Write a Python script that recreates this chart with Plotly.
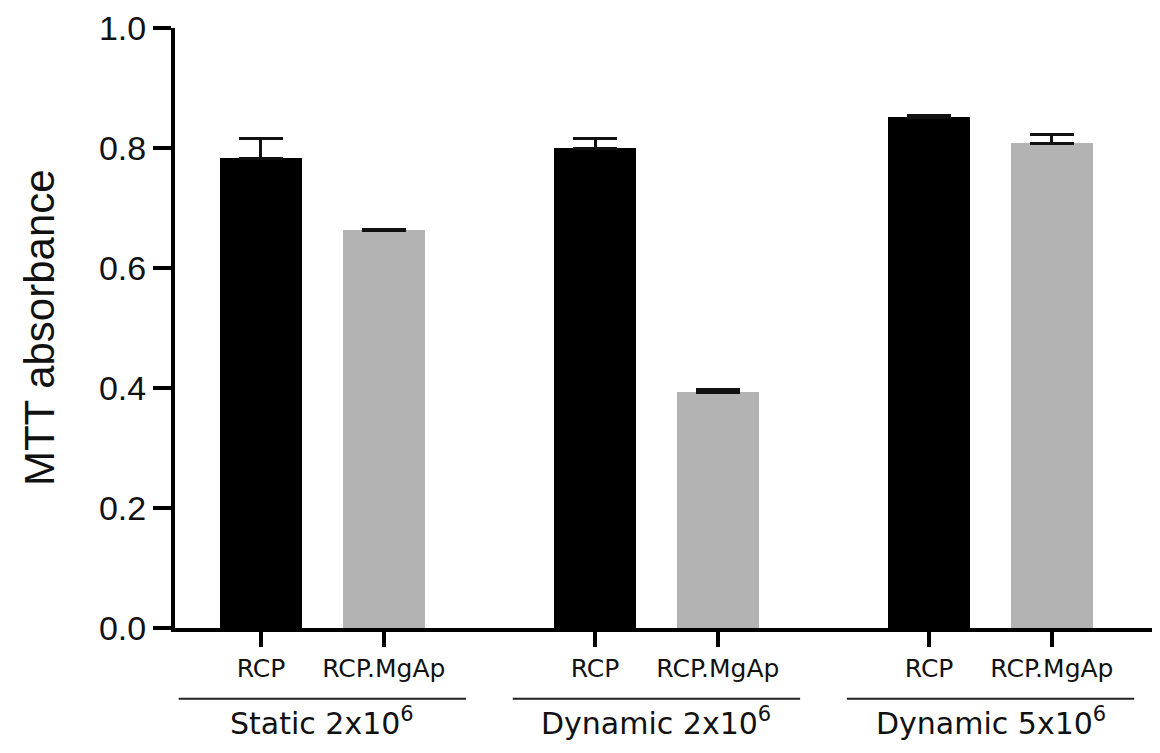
import plotly.graph_objects as go

groups = ["Static 2x10<sup>6</sup>", "Dynamic 2x10<sup>6</sup>", "Dynamic 5x10<sup>6</sup>"]
materials = ["RCP", "RCP.MgAp"]
rcp_values = [0.783, 0.800, 0.851]
rcp_errors = [0.033, 0.016, 0.003]
mgap_values = [0.663, 0.393, 0.808]
mgap_errors = [0.002, 0.005, 0.014]
y_ticks = [0.0, 0.2, 0.4, 0.6, 0.8, 1.0]

GROUP_STEP = 2.72
bar_w = 0.67
x_rcp = [g * GROUP_STEP for g in range(len(groups))]
x_mgap = [g * GROUP_STEP + 1 for g in range(len(groups))]
centers = [g * GROUP_STEP + 0.5 for g in range(len(groups))]

fig = go.Figure()
fig.add_trace(go.Bar(
    x=x_rcp, y=rcp_values, width=bar_w, name=materials[0],
    marker=dict(color="#000000", line=dict(width=0)),
    error_y=dict(type="data", array=rcp_errors, symmetric=False, arrayminus=[0] * 3,
                 color="#111111", thickness=3, width=22),
))
fig.add_trace(go.Bar(
    x=x_mgap, y=mgap_values, width=bar_w, name=materials[1],
    marker=dict(color="#b3b3b3", line=dict(width=0)),
    error_y=dict(type="data", array=mgap_errors, symmetric=False, arrayminus=[0] * 3,
                 color="#111111", thickness=3, width=22),
))

tickvals = []
ticktext = []
for a, b in zip(x_rcp, x_mgap):
    tickvals += [a, b]
    ticktext += materials

for c, g in zip(centers, groups):
    fig.add_shape(type="line", xref="x", yref="paper", x0=c - 1.17, x1=c + 1.17,
                  y0=-0.118, y1=-0.118, line=dict(color="#222222", width=2))
    fig.add_annotation(x=c, y=-0.155, xref="x", yref="paper", text=g, showarrow=False,
                       font=dict(family="DejaVu Sans", size=30, color="#111111"),
                       xanchor="center", yanchor="middle")

fig.add_annotation(x=-0.138, y=0.5, xref="paper", yref="paper", text="MTT absorbance",
                   textangle=-90, showarrow=False, xanchor="center", yanchor="middle",
                   font=dict(family="Liberation Sans, Arial", size=42, color="#111111"))

fig.update_layout(
    width=1152, height=745,
    margin=dict(l=167, r=0, t=20, b=125),
    paper_bgcolor="white", plot_bgcolor="white",
    showlegend=False,
    bargap=0,
    xaxis=dict(
        range=[-0.7, 7.32], tickmode="array", tickvals=tickvals, ticktext=ticktext,
        showline=True, linecolor="#000000", linewidth=4,
        ticks="outside", ticklen=15, tickwidth=4, tickcolor="#000000",
        showgrid=False, zeroline=False,
        tickfont=dict(family="DejaVu Sans", size=25, color="#111111"),
    ),
    yaxis=dict(
        range=[0, 1.0], tickmode="array", tickvals=y_ticks,
        ticktext=[f"{v:.1f}" for v in y_ticks],
        showline=True, linecolor="#000000", linewidth=4,
        ticks="outside", ticklen=18, tickwidth=4, tickcolor="#000000",
        showgrid=False, zeroline=False,
        tickfont=dict(family="Liberation Sans, Arial", size=34, color="#111111"),
    ),
)

fig.write_html("out.html")
